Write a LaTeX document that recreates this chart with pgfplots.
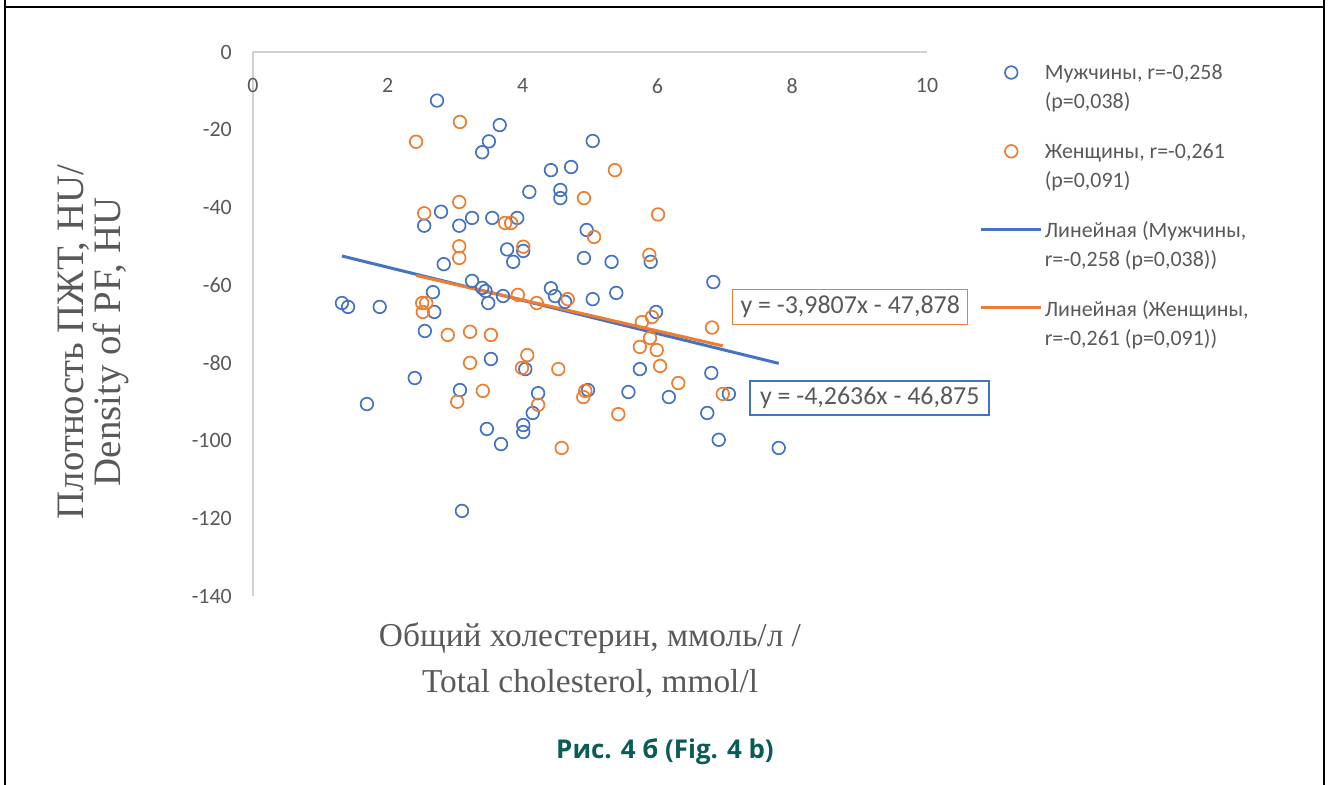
\documentclass[border=0pt]{standalone}
\usepackage{fontspec}
\usepackage{pgfplots}
\pgfplotsset{compat=1.18}
\setmainfont{Carlito}
\newfontfamily\serif{Liberation Serif}
\newfontfamily\capfont{Open Sans}
\definecolor{mblue}{HTML}{4472C4}
\definecolor{morange}{HTML}{ED7D31}
\definecolor{tgrey}{HTML}{595959}
\definecolor{agrey}{HTML}{D0D0D0}
\definecolor{capcol}{HTML}{0B5B58}
\pgfplotsset{
  legmark/.style={legend image code/.code={\draw[mark repeat=2,mark phase=2,##1] plot coordinates {(0bp,16bp)(30bp,16bp)(60bp,16bp)};}},
  legline/.style={legend image code/.code={\draw[##1] (0bp,17bp) -- (60bp,17bp);}},
}
\begin{document}
\begin{tikzpicture}
\path[use as bounding box] (0bp,0bp) rectangle (1332bp,-785bp);
\draw[line width=2.5bp] (5bp,0bp) -- (5bp,-785bp);
\draw[line width=2.5bp] (1324bp,0bp) -- (1324bp,-785bp);
\draw[line width=2.5bp] (5bp,-7bp) -- (1324bp,-7bp);
\begin{axis}[
  at={(253bp,-596bp)}, anchor=south west, scale only axis,
  width=674bp, height=544bp,
  xmin=0, xmax=10, ymin=-140, ymax=0,
  axis x line*=top, axis y line*=left,
  axis line style={agrey, line width=1.3bp, -},
  major tick length=0pt,
  xtick={0,2,4,6,8,10}, xticklabels={0,2,4,6,8,10},
  ytick={-140,-120,-100,-80,-60,-40,-20,0},
  yticklabels={-140,-120,-100,-80,-60,-40,-20,0},
  tick label style={font=\fontsize{22}{26}\selectfont, text=tgrey},
  xticklabel style={anchor=north, yshift=-26bp, inner sep=0pt},
  yticklabel style={anchor=east, xshift=-21bp, inner sep=0pt},
  clip=false,
  xlabel={Общий холестерин, ммоль/л /\\Total cholesterol, mmol/l},
  xlabel style={font=\serif\fontsize{33.5}{46}\selectfont, text=tgrey, align=center,
    at={(axis description cs:0.5,-0.043)}, anchor=north},
  ylabel={Плотность ПЖТ, HU/\\Density of PF, HU},
  ylabel style={font=\serif\fontsize{39}{37}\selectfont, text=tgrey, align=center,
    at={(axis description cs:-0.237,0.467)}, anchor=center},
  legend style={at={(axis description cs:1.078,0.99)}, anchor=north west,
    draw=none, fill=none, font=\fontsize{22}{29}\selectfont, text=tgrey,
    row sep=17bp, inner sep=0pt, nodes={inner sep=2pt, text depth=},
    cells={anchor=base west}},
  legend cell align=left,
]
\addplot[only marks, mark=o, mark size=6.3bp, mblue, line width=1.7bp, legmark] coordinates {
(2.73,-12.5) (3.66,-18.8) (3.50,-23.0) (3.40,-25.8) (5.04,-22.9) (4.42,-30.4)
(4.72,-29.6) (4.10,-36.0) (4.56,-35.5) (4.56,-37.6) (4.95,-45.8) (4.91,-53.0)
(5.32,-54.0) (5.90,-54.0) (3.92,-42.7) (3.77,-50.8) (3.86,-54.0) (4.01,-51.2)
(2.79,-41.1) (2.54,-44.7) (3.06,-44.7) (3.25,-42.7) (3.55,-42.7) (2.83,-54.6)
(1.32,-64.6) (1.41,-65.6) (1.88,-65.6) (2.67,-61.8) (2.69,-66.9) (2.55,-71.8)
(3.25,-58.9) (3.40,-60.7) (3.45,-61.5) (3.49,-64.6) (3.71,-62.8) (3.53,-79.0)
(2.40,-83.9) (3.07,-87.0) (1.69,-90.6) (3.47,-97.0) (3.68,-100.9) (4.42,-60.8)
(4.48,-62.8) (4.63,-64.3) (5.04,-63.6) (5.39,-62.0) (5.98,-66.9) (5.74,-81.6)
(6.17,-88.8) (5.57,-87.5) (4.97,-87.0) (4.04,-81.6) (4.23,-87.8) (4.15,-92.9)
(4.01,-96.0) (4.01,-97.8) (6.83,-59.2) (6.80,-82.6) (7.06,-88.0) (6.74,-92.9)
(6.91,-99.8) (7.80,-101.9) (3.10,-118.1)
};
\addlegendentry{\begin{tabular}[t]{@{}l@{}}Мужчины, r=-0,258\\(p=0,038)\end{tabular}}
\addplot[only marks, mark=o, mark size=6.3bp, morange, line width=1.7bp, legmark] coordinates {
(3.07,-18.0) (2.42,-23.1) (3.06,-38.6) (2.54,-41.5) (3.06,-50.0) (3.06,-53.0)
(3.74,-44.0) (3.83,-44.0) (5.37,-30.4) (4.91,-37.6) (6.01,-41.8) (5.06,-47.6)
(4.01,-50.1) (5.88,-52.2) (2.51,-64.6) (2.57,-64.6) (2.52,-66.9) (2.89,-72.8)
(3.22,-72.0) (3.53,-72.8) (3.93,-62.5) (4.21,-64.6) (4.67,-63.6) (3.22,-80.0)
(3.03,-90.0) (3.41,-87.2) (5.92,-68.2) (5.77,-69.5) (5.89,-73.6) (5.74,-75.9)
(5.99,-76.7) (6.04,-80.8) (6.31,-85.2) (5.42,-93.2) (4.90,-88.8) (4.93,-87.2)
(4.07,-78.0) (3.99,-81.3) (4.53,-81.6) (4.23,-90.8) (4.58,-101.9) (6.81,-70.9)
(6.97,-88.0)
};
\addlegendentry{\begin{tabular}[t]{@{}l@{}}Женщины, r=-0,261\\(p=0,091)\end{tabular}}
\addplot[mblue, line width=3bp, no markers, legline] coordinates {(1.32,-52.50) (7.80,-80.13)};
\addlegendentry{\begin{tabular}[t]{@{}l@{}}Линейная (Мужчины,\\r=-0,258 (p=0,038))\end{tabular}}
\addplot[morange, line width=3bp, no markers, legline] coordinates {(2.42,-57.51) (6.97,-75.62)};
\addlegendentry{\begin{tabular}[t]{@{}l@{}}Линейная (Женщины,\\r=-0,261 (p=0,091))\end{tabular}}
\node[draw=morange, line width=1.5bp, text=tgrey, font=\fontsize{26}{30}\selectfont,
  minimum width=235bp, minimum height=35bp, inner sep=0pt] at (axis cs:8.86,-65.6) {y = -3,9807x - 47,878};
\node[draw=mblue, line width=1.5bp, text=tgrey, font=\fontsize{26}{30}\selectfont,
  minimum width=239bp, minimum height=34bp, inner sep=0pt] at (axis cs:9.15,-89.0) {y = -4,2636x - 46,875};
\end{axis}
\node[font=\capfont\bfseries\fontsize{26}{30}\selectfont, text=capcol] at (665bp,-752bp) {Рис. 4 б (Fig. 4 b)};
\end{tikzpicture}
\end{document}
